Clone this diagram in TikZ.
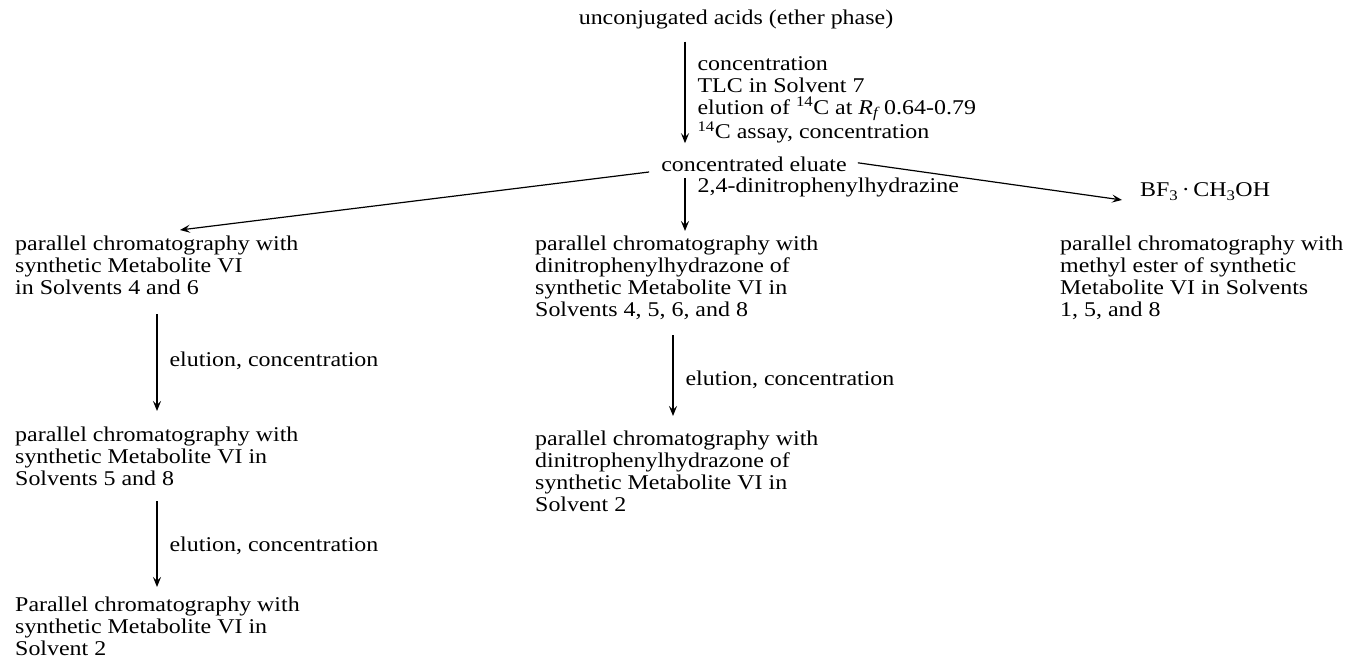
\documentclass[tikz,border=0pt]{standalone}
\usepackage{fontspec}
\setmainfont{Liberation Serif}[FakeStretch=1.14]
\usetikzlibrary{arrows.meta, positioning}

\begin{document}
\begin{tikzpicture}[x=1pt, y=-1pt, font=\fontsize{21}{22}\selectfont,
        stage/.style={anchor=north west, align=left, inner sep=0mm},
        word/.style={inner sep=0mm},
        note/.style={anchor=west, align=left, inner sep=0mm, xshift=12pt},
        flow/.style={-{Stealth[length=10pt, width=8pt, inset=4pt]}, line width=1.2pt}]
        \useasboundingbox (0,0) rectangle (1347,660);
        \coordinate (spine) at (685,0);
        \coordinate (lspine) at (157,0);
        \coordinate (mspine) at (673,0);
        \node (acids) [word, anchor=base] at (736,25) {unconjugated acids (ether phase)};
        \node (eluate) [word, anchor=base] at (754,172) {concentrated eluate};
        \node (bf) [word, anchor=base west] at (1140,197) {BF\textsubscript{3}\,·\,CH\textsubscript{3}OH};
        \node (left1) [stage] at (15,236) {parallel chromatography with\\synthetic Metabolite VI\\in Solvents 4 and 6};
        \node (mid1) [stage] at (535,236) {parallel chromatography with\\dinitrophenylhydrazone of\\synthetic Metabolite VI in\\Solvents 4, 5, 6, and 8};
        \node (right1) [stage] at (1060,236) {parallel chromatography with\\methyl ester of synthetic\\Metabolite VI in Solvents\\1, 5, and 8};
        \node (left2) [stage] at (15,427) {parallel chromatography with\\synthetic Metabolite VI in\\Solvents 5 and 8};
        \node (mid2) [stage] at (535,431) {parallel chromatography with\\dinitrophenylhydrazone of\\synthetic Metabolite VI in\\Solvent 2};
        \node (left3) [stage] at (15,597) {Parallel chromatography with\\synthetic Metabolite VI in\\Solvent 2};
        \draw[flow, shorten <=12pt, shorten >=14pt] (acids.south -| spine) to node[note, pos=0.55] {concentration\\TLC in Solvent 7\\elution of \textsuperscript{14}C at \textit{R\textsubscript{f}} 0.64-0.79\\\textsuperscript{14}C assay, concentration} (eluate.north -| spine);
        \draw[flow, shorten <=6pt, shorten >=5pt] (eluate.south -| spine) to node[note, pos=0.23] {2,4-dinitrophenylhydrazine} (mid1.north -| spine);
        \draw[flow] ([xshift=-12pt]eluate.base west) to ([xshift=165pt, yshift=6pt]left1.north west);
        \draw[flow] ([xshift=11pt, yshift=2pt]eluate.east) to ([xshift=-18pt, yshift=-3pt]bf.base west);
        \draw[flow, shorten <=19pt, shorten >=16pt] (left1.south -| lspine) to node[note] {elution, concentration} (left2.north -| lspine);
        \draw[flow, shorten <=15pt, shorten >=10pt] (left2.south -| lspine) to node[note, pos=0.54] {elution, concentration} (left3.north -| lspine);
        \draw[flow, shorten <=15pt, shorten >=15pt] (mid1.south -| mspine) to node[note, pos=0.54] {elution, concentration} (mid2.north -| mspine);
\end{tikzpicture}
\end{document}
